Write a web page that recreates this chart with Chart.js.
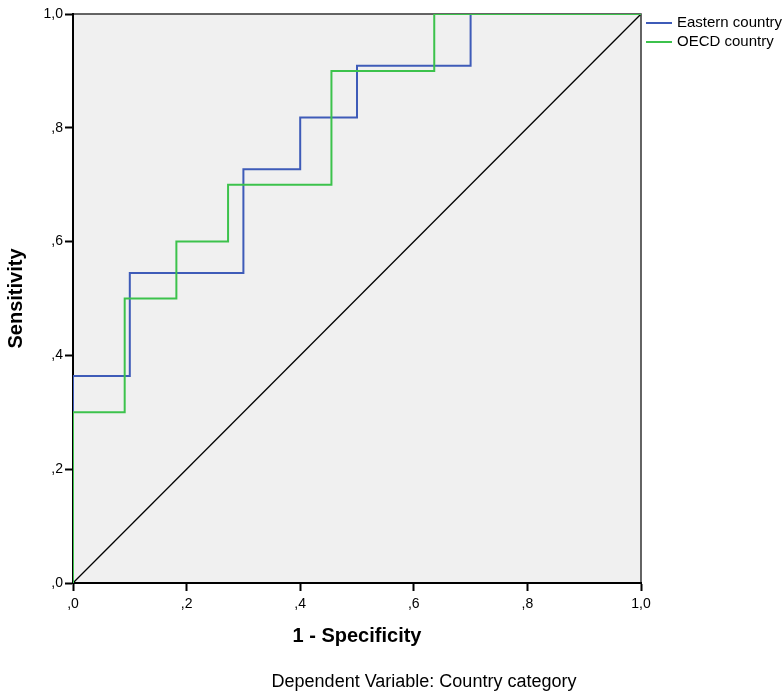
<!DOCTYPE html>
<html>
<head>
<meta charset="utf-8">
<script src="https://cdn.jsdelivr.net/npm/chart.js@4.4.1/dist/chart.umd.min.js"></script>
<style>
  body { margin: 0; background: #fff; }
  #wrap { width: 784px; height: 692px; }
</style>
</head>
<body>
<div id="wrap"><canvas id="roc" width="784" height="692"></canvas></div>
<script>
// ROC coordinates (1 - specificity, sensitivity)
const SERIES = ['Eastern country', 'OECD country'];
const EAST_FPR = [0, 0, 0.1, 0.1, 0.3, 0.3, 0.4, 0.4, 0.5, 0.5, 0.7, 0.7, 1];
const EAST_TPR = [0, 0.364, 0.364, 0.545, 0.545, 0.727, 0.727, 0.818, 0.818, 0.909, 0.909, 1, 1];
const OECD_FPR = [0, 0, 0.091, 0.091, 0.182, 0.182, 0.273, 0.273, 0.455, 0.455, 0.636, 0.636, 1];
const OECD_TPR = [0, 0.3, 0.3, 0.5, 0.5, 0.6, 0.6, 0.7, 0.7, 0.9, 0.9, 1, 1];
const REF_LINE = [0, 1];
const TICKS = [0, 0.2, 0.4, 0.6, 0.8, 1];
const TICK_LABELS = [',0', ',2', ',4', ',6', ',8', '1,0'];
const FOOTNOTE = 'Dependent Variable: Country category';

const COLORS = { 'Eastern country': '#3e5bb8', 'OECD country': '#3cc24c' };

Chart.defaults.font.family = '"Liberation Sans", Arial, sans-serif';
Chart.defaults.color = '#000';

const toPoints = (xs, ys) => xs.map((x, i) => ({ x, y: ys[i] }));

// plot background and top/right frame, drawn under the axes
const rocFrame = {
    id: 'rocFrame',
    beforeDraw(chart) {
        const { ctx, chartArea: a } = chart;
        ctx.save();
        ctx.fillStyle = '#f0f0f0';
        ctx.fillRect(a.left, a.top, a.width, a.height);
        ctx.strokeStyle = '#333';
        ctx.lineWidth = 1.5;
        ctx.beginPath();
        ctx.moveTo(a.left, a.top);
        ctx.lineTo(a.right, a.top);
        ctx.lineTo(a.right, a.bottom);
        ctx.stroke();
        ctx.restore();
    },
    afterDraw(chart) {
        const { ctx, chartArea: a } = chart;
        ctx.save();
        ctx.font = '15px "Liberation Sans", Arial, sans-serif';
        ctx.textBaseline = 'middle';
        ctx.fillStyle = '#000';
        SERIES.forEach((name, i) => {
            const y = a.top + 9 + i * 19;
            ctx.strokeStyle = COLORS[name];
            ctx.lineWidth = 2;
            ctx.beginPath();
            ctx.moveTo(a.right + 5, y);
            ctx.lineTo(a.right + 31, y);
            ctx.stroke();
            ctx.fillText(name, a.right + 36, y);
        });
        ctx.font = '18px "Liberation Sans", Arial, sans-serif';
        ctx.textAlign = 'center';
        ctx.textBaseline = 'alphabetic';
        ctx.fillText(FOOTNOTE, (a.left + a.right) / 2 + 67, 687);
        ctx.restore();
    }
};

function axis(width, height, title, titlePad, tickPad) {
    return {
        type: 'linear',
        min: 0,
        max: 1,
        afterFit(s) {
            if (width) s.width = width;
            if (height) s.height = height;
        },
        afterBuildTicks(s) { s.ticks = TICKS.map(v => ({ value: v })); },
        ticks: {
            callback: (v, i) => TICK_LABELS[i],
            font: { size: 14 },
            color: '#000',
            padding: tickPad,
            maxRotation: 0,
            autoSkip: false,
        },
        grid: { display: true, drawOnChartArea: false, drawTicks: true, tickLength: 8, tickColor: '#000', tickWidth: 2 },
        border: { display: true, color: '#000', width: 2 },
        title: { display: true, text: title, color: '#000', font: { size: 20, weight: 'bold' }, padding: titlePad },
    };
}

new Chart(document.getElementById('roc'), {
    type: 'scatter',
    data: {
        datasets: [
            { label: 'OECD country', data: toPoints(OECD_FPR, OECD_TPR), borderColor: COLORS['OECD country'], borderWidth: 2, showLine: true, pointRadius: 0 },
            { label: 'Eastern country', data: toPoints(EAST_FPR, EAST_TPR), borderColor: COLORS['Eastern country'], borderWidth: 2, showLine: true, pointRadius: 0 },
            { label: 'Reference', data: toPoints(REF_LINE, REF_LINE), borderColor: '#000', borderWidth: 1.3, showLine: true, pointRadius: 0 },
        ],
    },
    options: {
        responsive: false,
        animation: false,
        layout: { padding: { top: 14, right: 143, bottom: 0, left: 0 } },
        plugins: { legend: { display: false }, tooltip: { enabled: false } },
        scales: {
            x: axis(0, 109, '1 - Specificity', { top: 0, bottom: 44 }, 5),
            y: axis(73, 0, 'Sensitivity', { top: 4, bottom: 0 }, 2),
        },
    },
    plugins: [rocFrame],
});
</script>
</body>
</html>
